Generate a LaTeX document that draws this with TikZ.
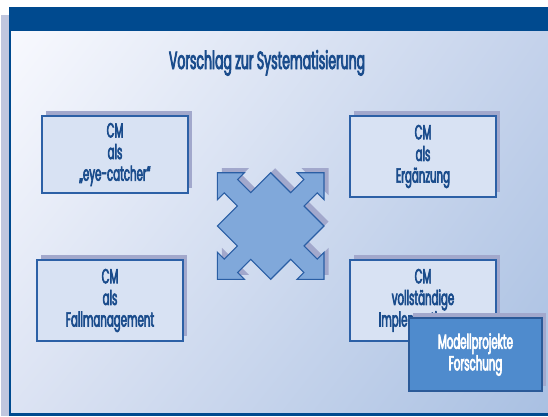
\documentclass[tikz,border=0pt]{standalone}
\usepackage{fontspec}
\setmainfont{Poppins}[FakeStretch=0.5, FakeBold=3]
\usetikzlibrary{shadows,shadings}
\definecolor{barblue}{HTML}{004A8F}
\definecolor{stripc}{HTML}{C0C6DE}
\definecolor{bgUL}{HTML}{F8F9FE}
\definecolor{bgUR}{HTML}{C4D2EB}
\definecolor{bgLL}{HTML}{DCE3F3}
\definecolor{bgLR}{HTML}{A9C0E2}
\definecolor{boxfill}{HTML}{D8E2F3}
\definecolor{boxborder}{HTML}{2C60A6}
\definecolor{textblue}{HTML}{1A4C8C}
\definecolor{shadowc}{HTML}{A2A8CC}
\definecolor{crossfill}{HTML}{80A8DA}
\definecolor{crossborder}{HTML}{2A5EA4}
\definecolor{darkbox}{HTML}{4F8BCD}
\definecolor{darkborder}{HTML}{2B5A98}
\tikzset{
  cmbox/.style={draw=boxborder, line width=1.2bp, fill=boxfill, text=textblue,
    minimum width=146bp, minimum height=81bp, align=center, inner sep=0pt,
    font=\fontsize{20.5}{21.7}\selectfont,
    drop shadow={shadow xshift=4bp, shadow yshift=5bp, fill=shadowc, opacity=1}},
  darkstyle/.style={fill=darkbox, draw=darkborder, text=white},
  crossline/.style={draw=crossborder, line width=1.1bp, line join=miter, fill=crossfill}
}
\begin{document}
\begin{tikzpicture}[x=1bp,y=-1bp]
\useasboundingbox (0,0) rectangle (548,416);
% frame
\fill[stripc] (1,15) rectangle (9,416);
\shade[upper left=bgUL, upper right=bgUR, lower left=bgLL, lower right=bgLR] (11,31) rectangle (548,413);
\fill[barblue] (9,7) rectangle (548,31);
\fill[barblue] (9,7) rectangle (11,416);
\fill[barblue] (9,413) rectangle (548,416);
% title
\node[text=textblue, font=\fontsize{25}{28}\selectfont, anchor=base, inner sep=0pt] (title) at (267,69) {Vorschlag zur Systematisierung};
% cross
\begin{scope}[shift={(270.7,226)}, yscale=-1]
\fill[shadowc, shift={(4.5,4.5)}] (0,53.3) -- (-19.95,33.35) -- (-33.1,46.5) -- (-26.3,53.3) -- (-53.3,53.3) -- (-53.3,26.3) -- (-46.5,33.1) -- (-33.35,19.95) -- (-53.3,0)
 -- (-33.35,-19.95) -- (-46.5,-33.1) -- (-53.3,-26.3) -- (-53.3,-53.3) -- (-26.3,-53.3) -- (-33.1,-46.5) -- (-19.95,-33.35) -- (0,-53.3)
 -- (19.95,-33.35) -- (33.1,-46.5) -- (26.3,-53.3) -- (53.3,-53.3) -- (53.3,-26.3) -- (46.5,-33.1) -- (33.35,-19.95) -- (53.3,0)
 -- (33.35,19.95) -- (46.5,33.1) -- (53.3,26.3) -- (53.3,53.3) -- (26.3,53.3) -- (33.1,46.5) -- (19.95,33.35) -- cycle;
\path[crossline] (0,53.3) -- (-19.95,33.35) -- (-33.1,46.5) -- (-26.3,53.3) -- (-53.3,53.3) -- (-53.3,26.3) -- (-46.5,33.1) -- (-33.35,19.95) -- (-53.3,0)
 -- (-33.35,-19.95) -- (-46.5,-33.1) -- (-53.3,-26.3) -- (-53.3,-53.3) -- (-26.3,-53.3) -- (-33.1,-46.5) -- (-19.95,-33.35) -- (0,-53.3)
 -- (19.95,-33.35) -- (33.1,-46.5) -- (26.3,-53.3) -- (53.3,-53.3) -- (53.3,-26.3) -- (46.5,-33.1) -- (33.35,-19.95) -- (53.3,0)
 -- (33.35,19.95) -- (46.5,33.1) -- (53.3,26.3) -- (53.3,53.3) -- (26.3,53.3) -- (33.1,46.5) -- (19.95,33.35) -- cycle;
\end{scope}
% boxes
\node[cmbox, minimum height=77bp] (b1) at (115,154.5) {CM\\als\\„eye-catcher“};
\node[cmbox] (b2) at (423,156.5) {CM\\als\\Ergänzung};
\node[cmbox] (b3) at (110,300.5) {CM\\als\\Fallmanagement};
\node[cmbox] (b4) at (423,300.5) {CM\\vollständige\\Implementierung};
\node[cmbox, darkstyle, minimum width=133bp, minimum height=73bp] (b5) at (475.5,354.5) {Modellprojekte\\Forschung};
\end{tikzpicture}
\end{document}
